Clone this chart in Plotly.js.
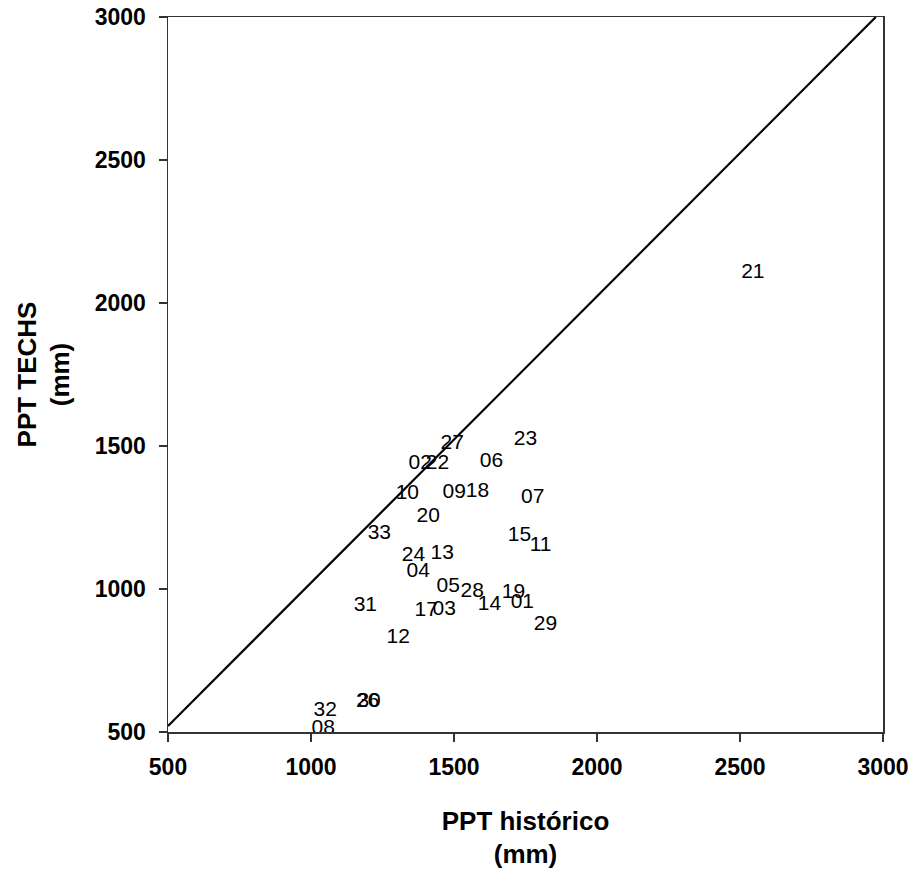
<!DOCTYPE html>
<html>
<head>
<meta charset="utf-8">
<script src="https://cdn.plot.ly/plotly-3.0.1.min.js"></script>
<style>html,body{margin:0;padding:0;background:#fff;}#chart{width:916px;height:873px;}</style>
</head>
<body>
<div id="chart"></div>
<script>
// Station labels and values (PPT histórico vs PPT TECHS, mm)
const stations = ["21","23","27","02","22","06","10","09","18","07","20","33","15","11","24","13","04","05","28","19","01","14","31","17","03","29","12","26","30","32","08"];
const pptHistorico = [2545,1750,1494,1382,1442,1631,1337,1501,1582,1775,1410,1239,1729,1803,1358,1459,1375,1480,1564,1708,1739,1624,1190,1403,1466,1820,1305,1198,1203,1050,1043];
const pptTechs = [2105,1521,1507,1437,1437,1444,1332,1336,1339,1318,1252,1192,1185,1150,1115,1122,1059,1007,990,986,951,944,941,923,927,874,829,605,605,573,510];
// Reference line
const lineX = [500, 2975];
const lineY = [521, 3000];
const xTicks = [500,1000,1500,2000,2500,3000];
const yTicks = [500,1000,1500,2000,2500,3000];

const font = "Arial, 'Liberation Sans', sans-serif";
const traces = [
  {x: lineX, y: lineY, mode: 'lines', line: {color: '#000', width: 2.2}, hoverinfo: 'skip', showlegend: false},
  {x: pptHistorico, y: pptTechs, mode: 'text', text: stations, textposition: 'middle center',
   textfont: {family: font, size: 21, color: '#000'}, showlegend: false}
];
const axisCommon = {
  showgrid: false, zeroline: false, showline: true, mirror: true,
  linecolor: '#333', linewidth: 1.5, ticks: 'outside', ticklen: 8, tickwidth: 1.5, tickcolor: '#333',
  tickfont: {family: font, size: 23, color: '#000', weight: 'bold'}
};
const layout = {
  width: 916, height: 873,
  margin: {l: 168, r: 33, t: 17, b: 141},
  paper_bgcolor: '#fff', plot_bgcolor: '#fff',
  xaxis: Object.assign({}, axisCommon, {
    range: [500, 3000], tickvals: xTicks, ticktext: xTicks.map(String), ticklabelstandoff: 6,
    title: {text: 'PPT histórico<br>(mm)', font: {family: font, size: 26, color: '#000', weight: 'bold'}, standoff: 32}
  }),
  yaxis: Object.assign({}, axisCommon, {
    range: [500, 3000], tickvals: yTicks, ticktext: yTicks.map(String), ticklabelstandoff: 8,
    title: {text: 'PPT TECHS<br>(mm)', font: {family: font, size: 26, color: '#000', weight: 'bold'}, standoff: 17}
  })
};
Plotly.newPlot('chart', traces, layout, {displayModeBar: false, staticPlot: true});
</script>
</body>
</html>
